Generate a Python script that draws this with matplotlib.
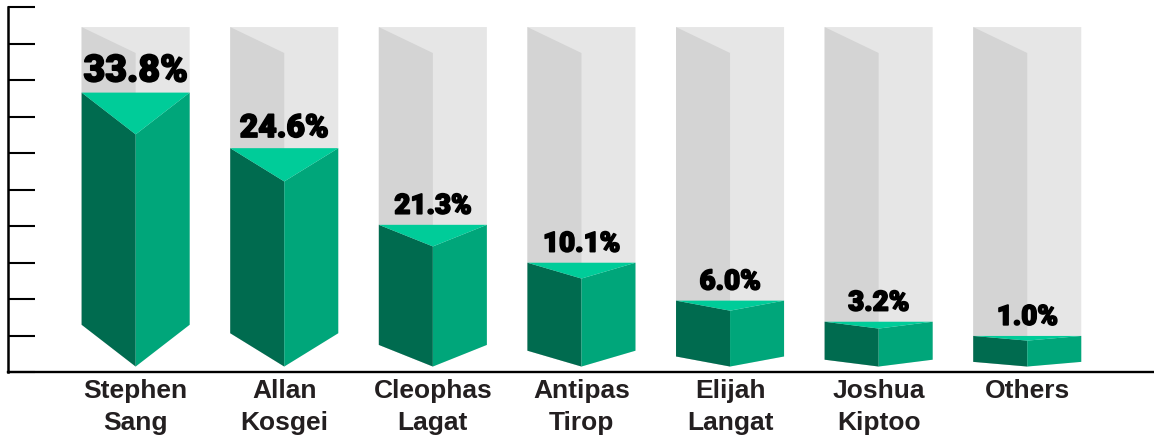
import matplotlib
matplotlib.use("Agg")
import matplotlib.pyplot as plt
from matplotlib.patches import Polygon
import matplotlib.patheffects as pe

#%% DATA
names = ["Stephen\nSang", "Allan\nKosgei", "Cleophas\nLagat", "Antipas\nTirop",
         "Elijah\nLangat", "Joshua\nKiptoo", "Others"]
shares = [33.8, 24.6, 21.3, 10.1, 6.0, 3.2, 1.0]
# drawn height of each green prism, in axis tick units (the axis has no labels)
bar_heights = [6.36, 5.07, 3.29, 2.41, 1.53, 1.04, 0.71]
track_top = 9.45

#%% STYLE
dark_green = "#006b4f"
mid_green = "#00a67a"
light_green = "#00cc99"
gray_left = "#d4d4d4"
gray_right = "#e6e6e6"
label_sizes = [27, 23, 20, 20, 20, 20, 20]

W = 0.727          # bar width in category units
base = 0.15        # bottom point of the prisms
depth_ratio = 0.18 # how deep the V looks, relative to the bar height
track_depth = 0.71

fig = plt.figure(figsize=(11.54, 4.41), dpi=100)
ax = fig.add_axes([8 / 1154, 69 / 441, 1146 / 1154, 365 / 441])

for i, (h, s) in enumerate(zip(bar_heights, shares)):
    l, c, r = i - W / 2, i, i + W / 2
    d = depth_ratio * h
    bot = base + d
    top = bot + h

    # gray background prism
    ax.add_patch(Polygon([(l, track_top), (r, track_top), (r, bot), (c, base), (l, bot)],
                         closed=True, facecolor=gray_right, edgecolor="none"))
    ax.add_patch(Polygon([(l, track_top), (c, track_top - track_depth), (c, base), (l, bot)],
                         closed=True, facecolor=gray_left, edgecolor="none"))

    # green prism
    ax.add_patch(Polygon([(l, top), (c, top - d), (c, base), (l, bot)],
                         closed=True, facecolor=dark_green, edgecolor="none"))
    ax.add_patch(Polygon([(c, top - d), (r, top), (r, bot), (c, base)],
                         closed=True, facecolor=mid_green, edgecolor="none"))
    ax.add_patch(Polygon([(l, top), (r, top), (c, top - d)],
                         closed=True, facecolor=light_green, edgecolor="none"))

    t = ax.annotate(f"{s:.1f}%", xy=(c, top), xytext=(0, 8), textcoords="offset points",
                    ha="center", va="baseline", fontsize=label_sizes[i],
                    fontfamily="Roboto", fontweight="black", color="black")
    t.set_path_effects([pe.withStroke(linewidth=1.2, foreground="black")])

ax.set_xlim(-0.859, 6.853)
ax.set_ylim(0, 10)

ax.set_xticks(range(len(names)))
ax.set_xticklabels(names, fontfamily="Liberation Sans", fontweight="bold",
                   fontsize=19, color="#231f20", linespacing=1.45)
ax.tick_params(axis="x", length=0, pad=5)
ax.set_yticks(range(11))
ax.set_yticklabels([])
ax.tick_params(axis="y", direction="in", length=19.5, width=1.5, color="black")

for side in ["top", "right"]:
    ax.spines[side].set_visible(False)
ax.spines["left"].set_linewidth(1.8)
ax.spines["bottom"].set_linewidth(1.7)
ax.set_facecolor("white")

fig.savefig("out.png", dpi=100)
